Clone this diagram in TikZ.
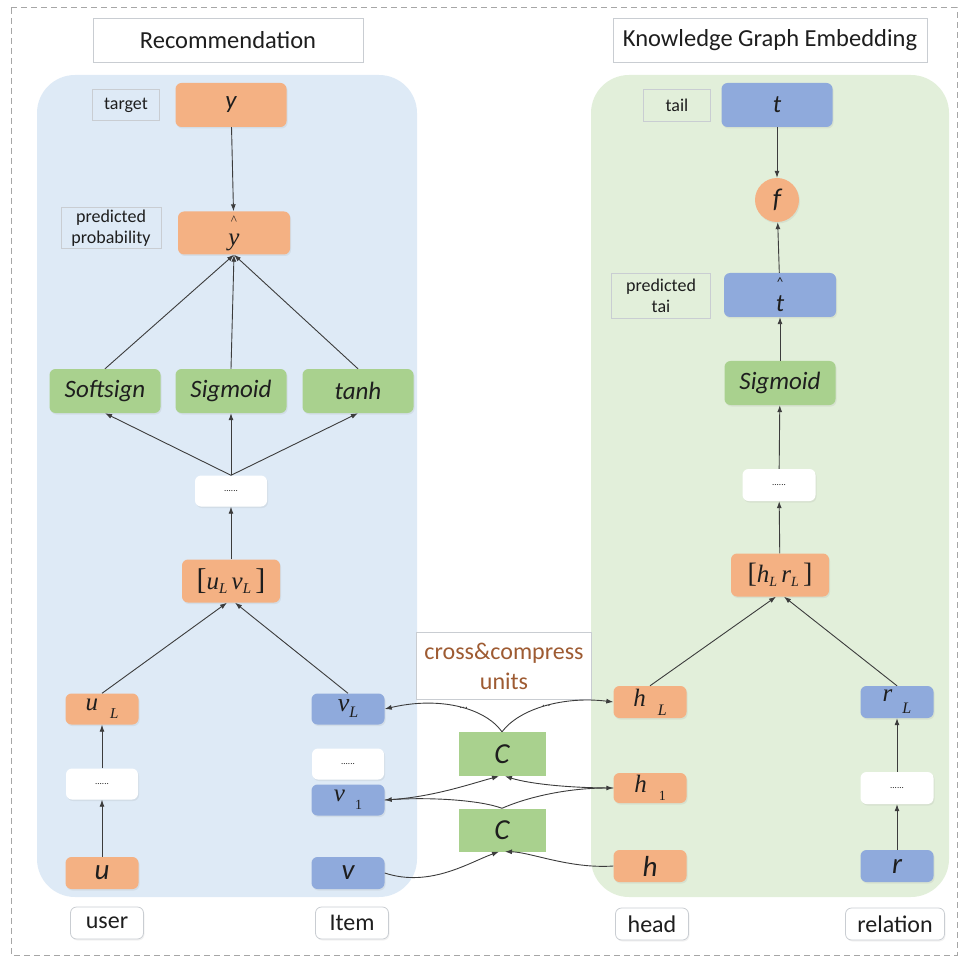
\documentclass[tikz,border=0pt]{standalone}
\usepackage{fontspec}
\setmainfont{Carlito}
\newfontfamily\tms{Liberation Serif}
\usetikzlibrary{arrows.meta,shadows}
\definecolor{boxorange}{HTML}{F4B183}
\definecolor{boxblue}{HTML}{8FAADC}
\definecolor{boxgreen}{HTML}{A9D18E}
\definecolor{panelblue}{HTML}{DEEAF6}
\definecolor{panelgreen}{HTML}{E2EFDA}
\definecolor{tagline}{HTML}{C9CDD2}
\definecolor{linegray}{HTML}{3C3C3C}
\definecolor{ccbrown}{HTML}{9E5B32}
\definecolor{txt}{HTML}{1E1E1E}
\begin{document}
\begin{tikzpicture}[x=1pt,y=-1pt,
  every node/.style={text=txt},
  box/.style={rounded corners=6pt, minimum width=111pt, minimum height=44pt, inner sep=0pt,
    font=\fontsize{25}{28}\selectfont\itshape,
    drop shadow={opacity=0.12, shadow xshift=1pt, shadow yshift=-1.5pt}},
  obox/.style={box, fill=boxorange},
  bbox/.style={box, fill=boxblue},
  gbox/.style={box, fill=boxgreen},
  small/.style={minimum width=73pt, minimum height=32pt},
  dotbox/.style={box, fill=white, minimum width=72pt, minimum height=31pt,
    font=\fontsize{9}{9}\selectfont},
  tag/.style={draw=tagline, line width=0.8pt, inner sep=0pt, align=center,
    font=\fontsize{18}{21}\selectfont},
  title/.style={draw=tagline, line width=0.8pt, fill=white, inner sep=0pt,
    minimum height=44pt, font=\fontsize{24.5}{28}\selectfont,
    drop shadow={opacity=0.10, shadow xshift=1pt, shadow yshift=-1.5pt}},
  foot/.style={draw=tagline, line width=0.8pt, fill=white, rounded corners=6pt, inner sep=0pt,
    minimum height=32pt, font=\fontsize{24}{28}\selectfont,
    drop shadow={opacity=0.10, shadow xshift=1pt, shadow yshift=-1.5pt}},
  arr/.style={draw=linegray, line width=0.9pt, -{Latex[length=7pt,width=5pt]}},
  cont/.style={inner sep=0pt, font=\fontsize{11}{11}\selectfont, text=linegray}
]
\useasboundingbox (0,0) rectangle (958,957);

% outer frame
\draw[gray!70, line width=1pt, dash pattern=on 6pt off 4pt] (11,8) rectangle (957,955);

% panels
\fill[panelblue, rounded corners=38pt] (37,75) rectangle (417,897);
\fill[panelgreen, rounded corners=38pt] (591,75) rectangle (949,897);

% titles
\node[title, minimum width=270pt] (rec) at (228,40) {Recommendation};
\node[title, minimum width=314pt] (kge) at (770,40) {Knowledge Graph Embedding};

% ---------- recommendation side ----------
\node[tag, minimum width=67pt, minimum height=31pt] (tgt) at (126,105) {target};
\node[obox] (y) at (231,105) {y};
\node[tag, minimum width=100pt, minimum height=41pt] (prob) at (111,228) {predicted\\probability};
\node[obox, minimum width=112pt, minimum height=43pt, align=center] (yhat) at (234,233)
  {{\fontsize{13}{13}\selectfont\upshape\tms\textasciicircum}\\[-7pt]{\tms y}};

\node[gbox] (softsign) at (105,391) {Softsign};
\node[gbox] (sigmoidL) at (231,391) {Sigmoid};
\node[gbox] (tanh) at (358,391) {tanh};

\node[dotbox] (dotsA) at (231,491) {......};
\node[obox, minimum width=98pt, minimum height=43pt] (uv) at (231,581)
  {\tms{\fontsize{30}{30}\selectfont\upshape[}u\raisebox{-4pt}{\fontsize{15}{15}\selectfont L}\,v\raisebox{-4pt}{\fontsize{15}{15}\selectfont L}\,{\fontsize{30}{30}\selectfont\upshape]}};

\node[obox, small, minimum height=31pt] (uL) at (102,709)
  {\tms u\hspace{12pt}\raisebox{-8pt}{\fontsize{15}{15}\selectfont L}};
\node[dotbox] (dotsU) at (102,784) {......};
\node[obox, small, font=\fontsize{29}{30}\selectfont\itshape] (u) at (102,873) {u};

\node[bbox, small, minimum height=31pt] (vL) at (348,709)
  {\tms\fontsize{26}{28}\selectfont v\raisebox{-6pt}{\fontsize{16}{16}\selectfont L}};
\node[dotbox] (dotsV) at (348,764) {......};
\node[bbox, small, minimum height=31pt] (v1) at (348,800)
  {\tms v\hspace{10pt}\raisebox{-8pt}{\fontsize{14}{14}\selectfont\upshape 1}};
\node[bbox, small, font=\fontsize{29}{30}\selectfont\itshape] (v) at (348,873) {v};

\node[foot, minimum width=73pt] (user) at (107,923) {user};
\node[foot, minimum width=73pt] (item) at (352,923) {Item};

% ---------- cross & compress units ----------
\node[draw=tagline, line width=0.8pt, fill=white, minimum width=175pt, minimum height=67pt,
  inner sep=0pt, align=center, text=ccbrown, font=\fontsize{24}{30}\selectfont] (cc) at (504,666)
  {cross\&compress\\units};
\node[fill=boxgreen, minimum width=87pt, minimum height=44pt, inner sep=0pt,
  font=\fontsize{29}{30}\selectfont\itshape] (Cu) at (502,754) {C};
\node[fill=boxgreen, minimum width=87pt, minimum height=43pt, inner sep=0pt,
  font=\fontsize{29}{30}\selectfont\itshape] (Cl) at (502,830) {C};

% ---------- knowledge graph side ----------
\node[tag, minimum width=67pt, minimum height=32pt] (tail) at (677,105) {tail};
\node[bbox] (t) at (777,105) {t};
\node[circle, fill=boxorange, minimum size=44pt, inner sep=0pt,
  font=\fontsize{27}{28}\selectfont\itshape,
  drop shadow={opacity=0.12, shadow xshift=1pt, shadow yshift=-1.5pt}] (f) at (777,200) {f};
\node[tag, minimum width=99pt, minimum height=45pt] (ptai) at (661,296) {predicted\\tai};
\node[bbox, minimum width=112pt, align=center] (that) at (780,295)
  {{\fontsize{13}{13}\selectfont\upshape\textasciicircum}\\[-3pt]t};
\node[gbox] (sigmoidR) at (780,383) {Sigmoid};
\node[dotbox, minimum width=73pt, minimum height=32pt] (dotsR) at (779,485) {......};
\node[obox, minimum width=98pt, minimum height=43pt] (hr) at (780,575)
  {\tms{\fontsize{28}{28}\selectfont\upshape[}h\raisebox{-4pt}{\fontsize{14}{14}\selectfont L}\,r\raisebox{-4pt}{\fontsize{14}{14}\selectfont L}\,{\fontsize{28}{28}\selectfont\upshape]}};

\node[obox, small] (hL) at (650,702)
  {\tms h\hspace{12pt}\raisebox{-9pt}{\fontsize{16}{16}\selectfont L}};
\node[obox, small, minimum height=30pt] (h1) at (650,788)
  {\tms h\hspace{12pt}\raisebox{-8pt}{\fontsize{14}{14}\selectfont\upshape 1}};
\node[obox, small, font=\fontsize{29}{30}\selectfont\itshape] (h) at (650,866) {h};

\node[bbox, small] (rL) at (897,702)
  {\tms\raisebox{3pt}{r}\hspace{10pt}\raisebox{-9pt}{\fontsize{16}{16}\selectfont L}};
\node[dotbox, minimum width=73pt, minimum height=32pt] (dotsRr) at (897,788) {......};
\node[bbox, small, font=\fontsize{29}{30}\selectfont\itshape] (r) at (897,866) {r};

\node[foot, minimum width=73pt] (head) at (652,924) {head};
\node[foot, minimum width=99pt] (relation) at (895,924) {relation};

% ---------- connectors: recommendation ----------
\draw[arr] (y) -- (yhat);
\draw[arr] (softsign.north) -- (yhat.south);
\draw[arr] (sigmoidL.north) -- (yhat.south);
\draw[arr] (tanh.north) -- (yhat.south);
\draw[arr] (dotsA.north) -- (softsign.south);
\draw[arr] (dotsA.north) -- (sigmoidL.south);
\draw[arr] (dotsA.north) -- (tanh.south);
\draw[arr] (uv) -- (dotsA);
\draw[arr] (uL.north) -- ([xshift=-4pt]uv.south);
\draw[arr] (vL.north) -- ([xshift=4pt]uv.south);
\draw[arr] (u) -- (dotsU);
\draw[arr] (dotsU) -- (uL);

% ---------- connectors: knowledge graph ----------
\draw[arr] (t) -- (f);
\draw[arr] (that) -- (f);
\draw[arr] (sigmoidR) -- (that);
\draw[arr] (dotsR) -- (sigmoidR);
\draw[arr] (hr) -- (dotsR);
\draw[arr] (hL.north) -- ([xshift=-4pt]hr.south);
\draw[arr] (rL.north) -- ([xshift=4pt]hr.south);
\draw[arr] (r) -- (dotsRr);
\draw[arr] (dotsRr) -- (rL);

% ---------- cross & compress links ----------
\draw[arr] (v.east) .. controls (430,888) and (470,862) .. ([xshift=-3pt]Cl.south);
\draw[arr] (h.west) .. controls (570,869) and (530,852) .. ([xshift=3pt]Cl.south);
\draw[arr] (Cl.north) .. controls (480,800) and (430,797) .. (v1.east);
\draw[arr] (Cl.north) .. controls (530,796) and (570,788) .. (h1.west);
\draw[arr] (v1.east) .. controls (430,798) and (470,784) .. ([xshift=-3pt]Cu.south);
\draw[arr] (h1.west) .. controls (570,788) and (530,784) .. ([xshift=3pt]Cu.south);
\draw[arr] (Cu.north) .. controls (485,708) and (440,696) .. (vL.east)
  node[cont, pos=0.45, above=-1pt] (contL) {...};
\draw[arr] (Cu.north) .. controls (520,708) and (565,696) .. (hL.west)
  node[cont, pos=0.5, above=-1pt] (contR) {...};
\end{tikzpicture}
\end{document}
